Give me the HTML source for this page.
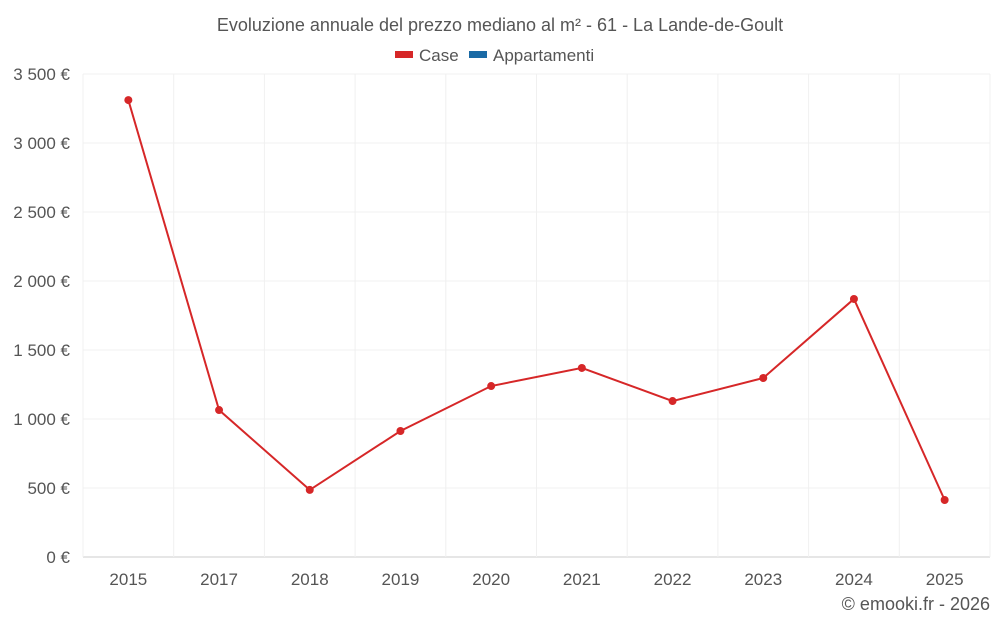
<!DOCTYPE html>
<html><head><meta charset="utf-8"><style>
body{margin:0;background:#fff;font-family:"Liberation Sans",Roboto,sans-serif;}
svg text{font-family:"Liberation Sans",sans-serif;}
</style></head><body>
<svg id="chart" width="1000" height="625">
<text x="500" y="31" text-anchor="middle" font-size="18" fill="#555">Evoluzione annuale del prezzo mediano al m² - 61 - La Lande-de-Goult</text>
<g><rect x="395" y="51" width="18" height="7" fill="#d62728"/><text x="419" y="61" font-size="17" fill="#555">Case</text></g>
<g><rect x="469" y="51" width="18" height="7" fill="#1a6aa5"/><text x="493" y="61" font-size="17" fill="#555">Appartamenti</text></g>
<g id="grid"></g><g id="marks"></g>
<text x="990" y="610" text-anchor="end" font-size="18" fill="#555">© emooki.fr - 2026</text>
</svg>
<script>
const categories=["2015","2017","2018","2019","2020","2021","2022","2023","2024","2025"];
const caseValues=[3311,1065,486,913,1239,1370,1130,1297,1870,413];
const yTicks=[0,500,1000,1500,2000,2500,3000,3500];
const yTickLabels=["0 €","500 €","1 000 €","1 500 €","2 000 €","2 500 €","3 000 €","3 500 €"];
const ns="http://www.w3.org/2000/svg";
const L=83,R=990,T=74,B=557;
const bw=(R-L)/categories.length;
const x=i=>L+bw*(i+0.5);
const y=v=>B-(v/3500)*(B-T);
const grid=document.getElementById('grid'),marks=document.getElementById('marks');
function mk(t,a,p){const e=document.createElementNS(ns,t);for(const k in a)e.setAttribute(k,a[k]);p.appendChild(e);return e;}
yTicks.forEach((v,i)=>{
 const l=mk('line',{x1:L,x2:R,y1:y(v),y2:y(v),stroke:v===0?'#ccc':'#f0f0f0'},grid);
 
 
 const t=mk('text',{x:70,y:y(v)+6,'text-anchor':'end','font-size':17,fill:'#555'},grid);
 t.textContent=yTickLabels[i];
 
 
});
for(let i=0;i<=categories.length;i++){
 const l=mk('line',{x1:L+bw*i,x2:L+bw*i,y1:T,y2:B,stroke:'#f0f0f0'},grid);
 
 
}
categories.forEach((c,i)=>{
 const t=mk('text',{x:x(i),y:585,'text-anchor':'middle','font-size':17,fill:'#555'},grid);
 t.textContent=c;
 
 
});
const p=mk('polyline',{points:caseValues.map((v,i)=>x(i)+','+y(v)).join(' '),fill:'none',stroke:'#d62728','stroke-width':2},marks);


caseValues.forEach((v,i)=>{
 const c=mk('circle',{cx:x(i),cy:y(v),r:4,fill:'#d62728'},marks);
 
 
});
</script>
</body></html>
